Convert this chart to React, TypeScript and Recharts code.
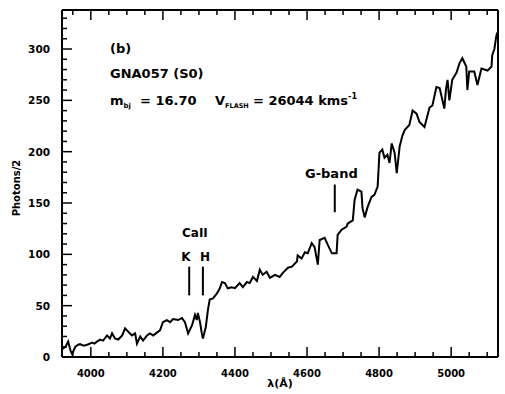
import { LineChart, Line, XAxis, YAxis, ReferenceLine } from "recharts";

const wavelength = [
  3921, 3930, 3937, 3944, 3948, 3957, 3965, 3970, 3980, 3990,
  4004, 4010, 4017, 4026, 4034, 4045, 4053, 4059, 4067, 4076,
  4087, 4095, 4103, 4114, 4123, 4128, 4137, 4145, 4156, 4164,
  4173, 4184, 4192, 4200, 4211, 4220, 4228, 4242, 4253, 4261,
  4270, 4281, 4289, 4294, 4297, 4303, 4308, 4311, 4319, 4325,
  4330, 4339, 4350, 4358, 4364, 4372, 4380, 4391, 4400, 4413,
  4422, 4433, 4441, 4450, 4461, 4469, 4477, 4488, 4497, 4511,
  4524, 4533, 4547, 4558, 4572, 4574, 4585, 4594, 4602, 4613,
  4621, 4630, 4635, 4649, 4658, 4669, 4682, 4685, 4696, 4710,
  4713, 4727, 4732, 4740, 4751, 4754, 4760, 4768, 4779, 4787,
  4796, 4801, 4809, 4815, 4823, 4829, 4835, 4843, 4849, 4857,
  4865, 4871, 4884, 4893, 4904, 4912, 4926, 4940, 4948, 4959,
  4968, 4981, 4986, 4990, 4995, 5003, 5015, 5023, 5031, 5042,
  5045, 5050, 5056, 5064, 5073, 5084, 5101, 5112, 5114, 5120,
  5125, 5128,
];

const photons = [
  8, 10, 15, 6, 3, 10, 12, 12.5, 11, 12,
  14, 13, 15, 17, 16, 21, 18, 23, 18, 17,
  21, 28, 25, 21, 23, 13, 20, 16, 21, 23,
  21, 24, 26, 34, 36, 34, 37, 36, 38, 34,
  23, 31, 41, 36, 43, 34, 23, 18, 29, 46,
  56, 57, 62, 67, 73, 72, 67, 68, 67, 72,
  68, 73, 72, 78, 74, 85, 80, 83, 77, 80,
  78, 82, 87, 88, 93, 99, 96, 102, 101, 111,
  107, 90, 114, 116, 109, 101, 101, 119, 124, 127,
  130, 133, 153, 163, 161, 145, 136, 146, 156, 158,
  166, 199, 202, 194, 197, 189, 208, 199, 179, 205,
  216, 221, 226, 240, 237, 229, 224, 243, 245, 263,
  262, 242, 262, 270, 250, 270, 277, 286, 291, 283,
  260, 278, 278, 278, 265, 281, 279, 283, 294, 300,
  312, 316,
];

// spectral features marked on the plot: wavelength and marker extent (photons)
const featureMarks = [
  { name: "K", lambda: 4273, from: 60, to: 88 },
  { name: "H", lambda: 4311, from: 60, to: 88 },
  { name: "G-band", lambda: 4677, from: 141, to: 168 },
];

const xTicks = [
  3950, 4000, 4050, 4100, 4150, 4200, 4250, 4300, 4350, 4400, 4450, 4500,
  4550, 4600, 4650, 4700, 4750, 4800, 4850, 4900, 4950, 5000, 5050, 5100,
];
const xLabels = [4000, 4200, 4400, 4600, 4800, 5000];

const yTicks = [
  0, 10, 20, 30, 40, 50, 60, 70, 80, 90, 100, 110, 120, 130, 140, 150, 160,
  170, 180, 190, 200, 210, 220, 230, 240, 250, 260, 270, 280, 290, 300, 310,
  320, 330,
];
const yLabels = [0, 50, 100, 150, 200, 250, 300];

const data = wavelength.map((w, i) => ({ lambda: w, photons: photons[i] }));

const FONT = "'DejaVu Sans', sans-serif";

function BottomTick({ x, y, payload }: any) {
  const v = payload.value;
  const big = v % 200 === 0;
  return (
    <g>
      <line x1={x} x2={x} y1={y} y2={y - (big ? 10 : 5)} stroke="#000" strokeWidth={1.5} />
      {xLabels.includes(v) && (
        <text x={x} y={y + 20} textAnchor="middle" fontFamily={FONT} fontWeight="bold" fontSize={10} fill="#000">
          {v}
        </text>
      )}
    </g>
  );
}

function TopTick({ x, y, payload }: any) {
  const big = payload.value % 200 === 0;
  return <line x1={x} x2={x} y1={y} y2={y + (big ? 10 : 5)} stroke="#000" strokeWidth={1.5} />;
}

function LeftTick({ x, y, payload }: any) {
  const v = payload.value;
  const big = v % 50 === 0;
  return (
    <g>
      <line x1={x} x2={x + (big ? 10 : 5)} y1={y} y2={y} stroke="#000" strokeWidth={1.5} />
      {yLabels.includes(v) && (
        <text x={x - 12} y={y + 4} textAnchor="end" fontFamily={FONT} fontWeight="bold" fontSize={10.5} fill="#000">
          {v}
        </text>
      )}
    </g>
  );
}

function RightTick({ x, y, payload }: any) {
  const big = payload.value % 50 === 0;
  return <line x1={x} x2={x - (big ? 10 : 5)} y1={y} y2={y} stroke="#000" strokeWidth={1.5} />;
}

export default function App() {
  const txt = { fontFamily: FONT, fontWeight: "bold" as const, fill: "#000" };
  const axisLine = { stroke: "#000", strokeWidth: 2 };
  return (
    <div style={{ position: "absolute", left: 0, top: 0, width: 505, height: 394, background: "#fff" }}>
      <LineChart width={505} height={394} data={data} margin={{ top: 9, right: 6, bottom: 36, left: 61 }}>
        <XAxis
          dataKey="lambda"
          type="number"
          domain={[3920, 5130]}
          ticks={xTicks}
          interval={0}
          height={1}
          tickSize={0}
          tickMargin={0}
          axisLine={axisLine}
          tick={<BottomTick />}
        />
        <XAxis
          xAxisId="top"
          orientation="top"
          dataKey="lambda"
          type="number"
          domain={[3920, 5130]}
          ticks={xTicks}
          interval={0}
          height={1}
          tickSize={0}
          tickMargin={0}
          axisLine={axisLine}
          tick={<TopTick />}
        />
        <YAxis
          type="number"
          domain={[0, 338]}
          ticks={yTicks}
          interval={0}
          width={1}
          tickSize={0}
          tickMargin={0}
          axisLine={axisLine}
          tick={<LeftTick />}
        />
        <YAxis
          yAxisId="right"
          orientation="right"
          type="number"
          domain={[0, 338]}
          ticks={yTicks}
          interval={0}
          width={1}
          tickSize={0}
          tickMargin={0}
          axisLine={axisLine}
          tick={<RightTick />}
        />
        {featureMarks.map((m) => (
          <ReferenceLine
            key={m.name}
            segment={[
              { x: m.lambda, y: m.from },
              { x: m.lambda, y: m.to },
            ]}
            stroke="#000"
            strokeWidth={2}
          />
        ))}
        <Line
          type="linear"
          dataKey="photons"
          stroke="#000"
          strokeWidth={2}
          dot={false}
          isAnimationActive={false}
        />
      </LineChart>
      <svg width={505} height={394} style={{ position: "absolute", left: 0, top: 0, pointerEvents: "none" }}>
        <text x={110} y={53} fontSize={13} {...txt}>(b)</text>
        <text x={110} y={78} fontSize={13} {...txt}>GNA057 (S0)</text>
        <text x={110} y={105} fontSize={13} {...txt}>
          m<tspan fontSize={7} dy={3}>bj</tspan>
        </text>
        <text x={140} y={105} fontSize={13} {...txt}>= 16.70</text>
        <text x={215} y={105} fontSize={13} {...txt}>
          V<tspan fontSize={6.5} dy={3}>FLASH</tspan>
        </text>
        <text x={253} y={105} fontSize={13} {...txt}>
          = 26044 kms<tspan fontSize={8} dy={-6}>-1</tspan>
        </text>
        <text x={305} y={178} fontSize={13} {...txt}>G-band</text>
        <text x={182} y={237} fontSize={12} {...txt}>CaII</text>
        <text x={186} y={261} fontSize={12} textAnchor="middle" {...txt}>K</text>
        <text x={205} y={261} fontSize={12} textAnchor="middle" {...txt}>H</text>
        <text x={20} y={188} fontSize={10} textAnchor="middle" transform="rotate(-90 20 188)" {...txt}>
          Photons/2
        </text>
        <text x={280} y={387} fontSize={11} textAnchor="middle" {...txt}>λ(Å)</text>
      </svg>
    </div>
  );
}
